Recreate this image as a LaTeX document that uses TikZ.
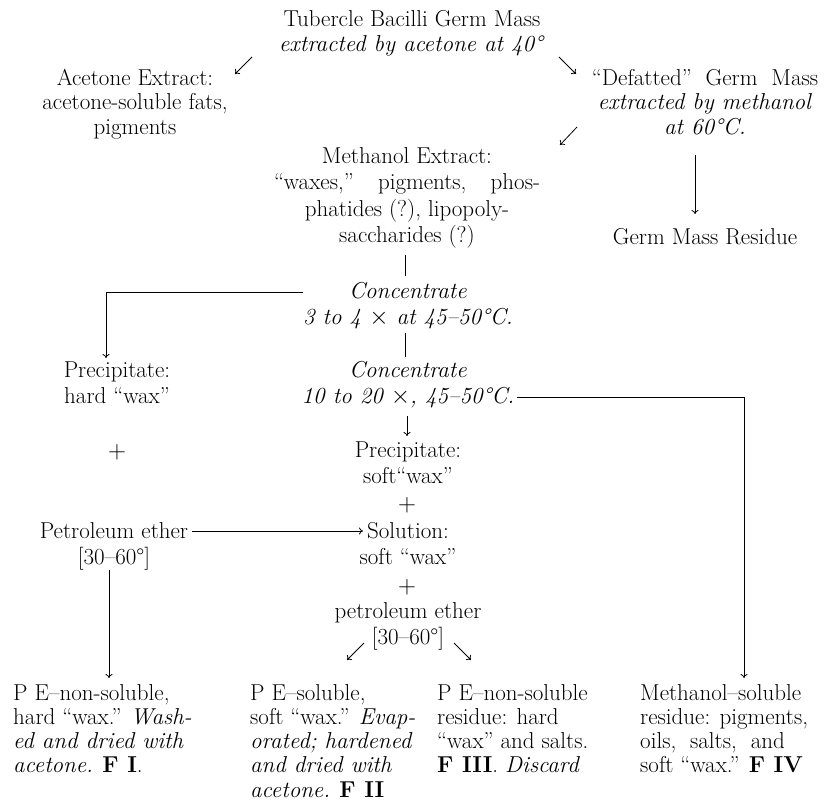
\documentclass[tikz,border=0pt]{standalone}
\usepackage{fontspec}
\usetikzlibrary{arrows.meta}
\begin{document}
\begin{tikzpicture}[x=1pt,y=-1pt,
  t/.style={anchor=base, inner sep=0pt, align=center, font=\fontsize{23}{26.5}\selectfont},
  tt/.style={anchor=base, inner sep=0pt, align=center, font=\fontsize{23}{24.5}\selectfont},
  tl/.style={anchor=base west, inner sep=0pt, align=left, font=\fontsize{23}{24.3}\selectfont},
  ln/.style={line width=0.8pt},
  ar/.style={line width=0.8pt, -{To[length=4pt,width=7pt]}}]
\useasboundingbox (0,0) rectangle (826,806);
% top (base anchor = baseline of the last line)
\node[tt] (tub) at (412,51) {Tubercle Bacilli Germ Mass\\\textit{extracted by acetone at 40°}};
\node[tt] (ace) at (135,134) {Acetone Extract:\\acetone-soluble fats,\\pigments};
\node[tt] (def) at (705,134) {“Defatted”\ \ Germ\ \ Mass\\\textit{extracted by methanol}\\\textit{at 60°C.}};
\coordinate (a1s) at (252,57); \coordinate (a1e) at (235,74);
\coordinate (a2s) at (559,57); \coordinate (a2e) at (576,74);
\coordinate (a3s) at (577,127); \coordinate (a3e) at (560,145);
\draw[ar] (a1s) -- (a1e);
\draw[ar] (a2s) -- (a2e);
\draw[ar] (a3s) -- (a3e);
% methanol extract
\node[t] (mex) at (407,242.5) {Methanol Extract:\\\makebox[266pt][s]{“waxes,”\hfill pigments,\hfill phos-}\\phatides (?), lipopoly-\\saccharides (?)};
\node[t] (gmr) at (705,244) {Germ Mass Residue};
\coordinate (g1) at (695,155); \coordinate (g2) at (695,214);
\draw[ar] (g1) -- (g2);
% concentrate 1
\node[t] (con1) at (408,324.5) {\textit{Concentrate}\\\textit{3 to 4 $\times$ at 45–50°C.}};
\coordinate (m1) at (405,255); \coordinate (m2) at (405,276);
\draw[ln] (m1) -- (m2);
\coordinate (l2) at (106,292); \coordinate (l3) at (106,358);
\draw[ar] (con1.west |- l2) -- (l2) -- (l3);
\node[t] (pre1) at (117,403.5) {Precipitate:\\hard “wax”};
% concentrate 2
\coordinate (m3) at (405,333); \coordinate (m4) at (405,357);
\draw[ln] (m3) -- (m4);
\node[t] (con2) at (408,403.5) {\textit{Concentrate}\\\textit{10 to 20 $\times$, 45–50°C.}};
\coordinate (r2) at (744,397); \coordinate (r3) at (744,678);
\draw[ar] ([xshift=3pt]con2.east |- r2) -- (r2) -- (r3);
\coordinate (m5) at (407,416); \coordinate (m6) at (407,436);
\draw[ar] (m5) -- (m6);
\node[t] (plus1) at (117,458) {$+$};
\node[t] (pre2) at (408,483.5) {Precipitate:\\soft“wax”};
\node[t] (plus2) at (407,511) {$+$};
\node[t] (pet) at (114,564.5) {Petroleum ether\\{[30–60°]}};
\node[t] (sol) at (408,564.5) {Solution:\\soft “wax”};
\coordinate (p2) at (363,531);
\draw[ar] ([xshift=4pt]pet.east |- p2) -- (p2);
\node[t] (plus3) at (407,593) {$+$};
\node[t] (pet2) at (408,644.5) {petroleum ether\\{[30–60°]}};
\coordinate (b1s) at (364,643); \coordinate (b1e) at (347,660);
\coordinate (b2s) at (454,643); \coordinate (b2e) at (471,660);
\draw[ar] (b1s) -- (b1e);
\draw[ar] (b2s) -- (b2e);
\coordinate (v1) at (109,570); \coordinate (v2) at (109,678);
\draw[ar] (v1) -- (v2);
% bottom
\node[tl] (f1) at (13,772.9) {P E–non-soluble,\\hard “wax.” \textit{Wash-}\\\textit{ed and dried with}\\\textit{acetone.} \textbf{F I}.};
\node[tl] (f2) at (250,797.2) {P E–soluble,\\soft “wax.” \textit{Evap-}\\\textit{orated; hardened}\\\textit{and dried with}\\\textit{acetone.} \textbf{F II}};
\node[tl] (f3) at (437,772.9) {P E–non-soluble\\residue: hard\\“wax” and salts.\\\textbf{F III}. \textit{Discard}};
\node[tl] (f4) at (640,772.9) {Methanol–soluble\\residue: pigments,\\oils,\ \ salts,\ \ and\\soft “wax.” \textbf{F IV}};
\end{tikzpicture}
\end{document}
